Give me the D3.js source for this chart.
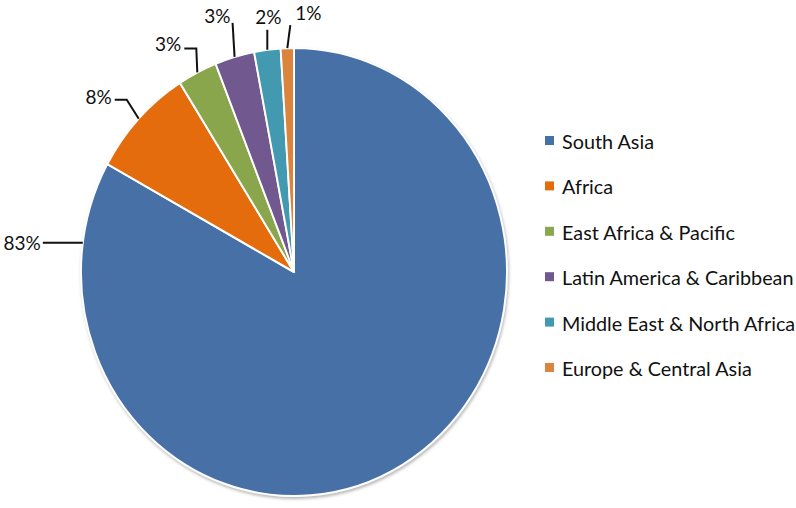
<!DOCTYPE html>
<html>
<head>
<meta charset="utf-8">
<script src="https://cdn.jsdelivr.net/npm/d3@7"></script>
<style>
  body { margin: 0; background: #fff; }
  svg text { font-family: Lato, "Open Sans", sans-serif; fill: #111; }
</style>
</head>
<body>
<div id="chart"></div>
<script>
// regions and their share of the total (%)
var regions = ["South Asia", "Africa", "East Africa & Pacific",
    "Latin America & Caribbean", "Middle East & North Africa", "Europe & Central Asia"];
var shares = [83, 8, 3, 3, 2, 1];
var colors = ["#4671a6", "#e46c0a", "#8aa64e", "#71598f", "#4299b0", "#db843d"];

// leader lines: offsets from the point on the rim, then where the text sits
var labelLayout = [
    { angle: 277.5, path: [[-40, 0]], text: [-2, 0], anchor: "end" },
    { path: [[-12, -19], [-24, -19]], text: [-3, -3], anchor: "end" },
    { path: [[-1, -24], [-13, -24]], text: [-3, -5], anchor: "end" },
    { path: [[-2, -34]], text: [-2, -7], anchor: "end" },
    { path: [[0, -20]], text: [1, -13], anchor: "middle" },
    { path: [[3, -23]], text: [5, -13], anchor: "start" }
];

var width = 796, height = 508;
var cx = 294, cy = 272, rx = 213, ry = 224;

var svg = d3.select("#chart").append("svg")
    .attr("width", width)
    .attr("height", height);

var defs = svg.append("defs");
defs.append("filter")
    .attr("id", "shadow")
    .attr("x", "-10%").attr("y", "-10%")
    .attr("width", "120%").attr("height", "120%")
  .append("feDropShadow")
    .attr("dx", 1).attr("dy", 2)
    .attr("stdDeviation", 1.5)
    .attr("flood-color", "#888")
    .attr("flood-opacity", 0.6);

var data = regions.map(function(r, i) {
    return { region: r, value: shares[i], color: colors[i] };
});

var pie = d3.pie()
    .sort(null)
    .value(function(d) { return d.value; });

var arcs = pie(data);

var arc = d3.arc()
    .innerRadius(0)
    .outerRadius(ry);

var rim = d3.arc()
    .innerRadius(ry)
    .outerRadius(ry);

// pie is slightly squashed horizontally in the original
var pieG = svg.append("g")
    .attr("transform", "translate(" + cx + "," + cy + ") scale(" + (rx / ry) + ",1)")
    .attr("filter", "url(#shadow)");

pieG.selectAll("path.slice")
    .data(arcs)
    .enter().append("path")
    .attr("class", "slice")
    .attr("d", arc)
    .attr("fill", function(d) { return d.data.color; })
    .attr("stroke", "#fff")
    .attr("stroke-width", 2)
    .attr("stroke-linejoin", "round");

// labels
function rimPoint(d, i) {
    var lay = labelLayout[i];
    var p;
    if (lay.angle !== undefined) {
        var a = lay.angle * Math.PI / 180;
        p = rim.centroid({ startAngle: a, endAngle: a });
    } else {
        p = rim.centroid(d);
    }
    return [cx + p[0] * rx / ry, cy + p[1]];
}

var labels = svg.append("g").attr("class", "labels");

arcs.forEach(function(d, i) {
    var lay = labelLayout[i];
    var start = rimPoint(d, i);
    var pts = [start].concat(lay.path.map(function(o) {
        return [start[0] + o[0], start[1] + o[1]];
    }));
    labels.append("path")
        .attr("d", d3.line()(pts))
        .attr("fill", "none")
        .attr("stroke", "#111")
        .attr("stroke-width", 2);
    var end = pts[pts.length - 1];
    labels.append("text")
        .attr("x", end[0] + lay.text[0])
        .attr("y", end[1] + lay.text[1])
        .attr("text-anchor", lay.anchor)
        .attr("dominant-baseline", "central")
        .attr("font-size", 19)
        .text(Math.round(d.data.value) + "%");
});

// legend
var ly = d3.scalePoint()
    .domain(regions)
    .range([140.5, 367.5]);

var legend = svg.append("g").attr("class", "legend")
    .selectAll("g")
    .data(data)
    .enter().append("g")
    .attr("transform", function(d) { return "translate(545," + ly(d.region) + ")"; });

legend.append("rect")
    .attr("x", 0)
    .attr("y", -4.5)
    .attr("width", 9)
    .attr("height", 9)
    .attr("fill", function(d) { return d.color; });

legend.append("text")
    .attr("x", 17)
    .attr("y", 0.5)
    .attr("dominant-baseline", "central")
    .attr("font-size", 19.8)
    .text(function(d) { return d.region; });
</script>
</body>
</html>
